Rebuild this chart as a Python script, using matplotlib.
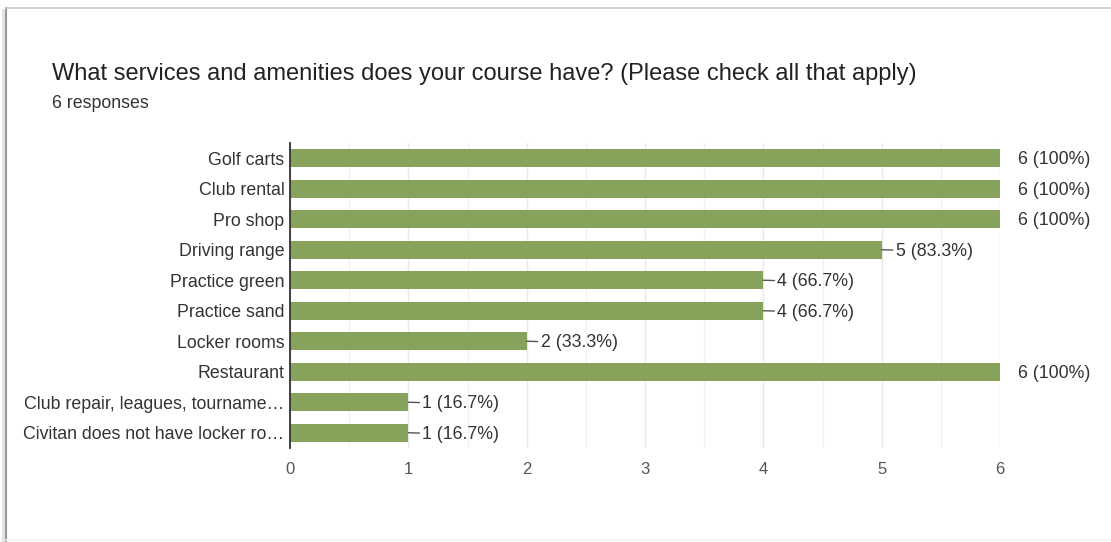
import matplotlib
matplotlib.use("Agg")
import matplotlib.pyplot as plt
from matplotlib.lines import Line2D

categories = ["Golf carts", "Club rental", "Pro shop", "Driving range", "Practice green",
              "Practice sand", "Locker rooms", "Restaurant",
              "Club repair, leagues, tourname…", "Civitan does not have locker ro…"]
counts = [6, 6, 6, 5, 4, 4, 2, 6, 1, 1]
percents = ["100%", "100%", "100%", "83.3%", "66.7%", "66.7%", "33.3%", "100%", "16.7%", "16.7%"]
xticks = [0, 1, 2, 3, 4, 5, 6]
title = "What services and amenities does your course have? (Please check all that apply)"
subtitle = "6 responses"

plt.rcParams['font.family'] = ['Liberation Sans', 'DejaVu Sans']

W, H = 1111, 542
fig = plt.figure(figsize=(W / 100, H / 100), dpi=100)
fig.patch.set_facecolor("white")

ax = fig.add_axes([290 / W, 1 - 448 / H, (1000 - 290) / W, (448 - 143) / H])
ypos = list(range(len(categories)))
ax.barh(ypos, counts, height=0.6, color="#87a25a", zorder=3)
ax.set_ylim(len(categories) - 0.5, -0.5)
ax.set_xlim(0, 6)
ax.set_yticks(ypos)
ax.set_yticklabels(categories, fontsize=12.8, color="#333333")
ax.set_xticks(xticks)
ax.set_xticklabels([str(t) for t in xticks], fontsize=12, color="#555555")
ax.set_xticks([x + 0.5 for x in xticks[:-1]], minor=True)
ax.tick_params(axis="both", which="both", length=0)
ax.tick_params(axis="y", pad=4)
ax.tick_params(axis="x", pad=10)
ax.grid(axis="x", which="major", color="#e8e8e8", linewidth=1, zorder=0)
ax.grid(axis="x", which="minor", color="#f1f1f1", linewidth=1, zorder=0)
for s in ["top", "right", "bottom"]:
    ax.spines[s].set_visible(False)
ax.spines["left"].set_color("#333333")
ax.spines["left"].set_linewidth(1.3)
ax.spines["left"].set_zorder(4)

for y, c, p in zip(ypos, counts, percents):
    label = f"{c} ({p})"
    if c >= 6:
        ax.annotate(label, xy=(c, y), xytext=(13, -1), textcoords="offset points",
                    va="center", ha="left", fontsize=12.8, color="#333333",
                    annotation_clip=False)
    else:
        ax.annotate(label, xy=(c, y), xytext=(10, -1), textcoords="offset points",
                    va="center", ha="left", fontsize=12.8, color="#333333",
                    arrowprops=dict(arrowstyle="-", color="#555555", lw=1,
                                    shrinkA=0, shrinkB=0),
                    annotation_clip=False)

fig.text(52 / W, 1 - 74 / H, title, fontsize=17, color="#222222", va="center", ha="left")
fig.text(52 / W, 1 - 103 / H, subtitle, fontsize=12.8, color="#333333", va="center", ha="left")

# card border
fig.add_artist(Line2D([6 / W, 6 / W], [0, 1 - 8 / H], transform=fig.transFigure,
                      color="#9a9a9a", linewidth=1.5))
fig.add_artist(Line2D([3 / W, 3 / W], [0, 1 - 10 / H], transform=fig.transFigure,
                      color="#e2e2e2", linewidth=2))
fig.add_artist(Line2D([6 / W, 1], [1 - 8 / H, 1 - 8 / H], transform=fig.transFigure,
                      color="#c8c8c8", linewidth=1.2))
fig.add_artist(Line2D([6 / W, 1], [1 - 540 / H, 1 - 540 / H], transform=fig.transFigure,
                      color="#f0f0f0", linewidth=1.2))

fig.savefig("out.png", dpi=100, facecolor="white")
